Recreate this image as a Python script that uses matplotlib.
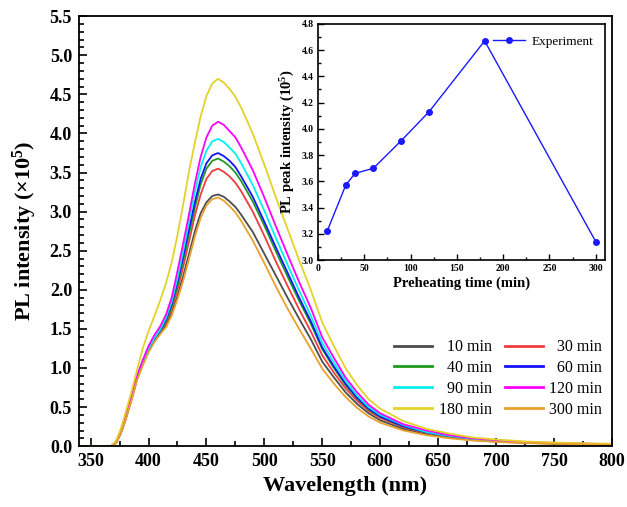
import matplotlib
matplotlib.use("Agg")
import matplotlib.pyplot as plt
from matplotlib.ticker import MultipleLocator, FormatStrFormatter

plt.rcParams['font.family'] = ['Liberation Serif', 'DejaVu Serif']
plt.rcParams['mathtext.fontset'] = 'custom'
plt.rcParams['mathtext.rm'] = 'Liberation Serif'
plt.rcParams['mathtext.bf'] = 'Liberation Serif:bold'

# ---------------- data ----------------
wavelength = [340, 360, 368, 372, 376, 380, 385, 390, 395, 400, 405, 410, 415, 420, 425,
              430, 435, 440, 445, 450, 455, 460, 465, 470, 475, 480, 490, 500, 510, 520,
              530, 540, 550, 560, 570, 580, 590, 600, 620, 640, 660, 680, 700, 725, 750,
              775, 800]

i_10 = [0, 0, 0, 0.04, 0.16, 0.33, 0.58, 0.85, 1.05, 1.22, 1.35, 1.45, 1.55, 1.70, 1.92,
        2.18, 2.46, 2.75, 2.98, 3.12, 3.20, 3.22, 3.19, 3.13, 3.06, 2.96, 2.74, 2.46, 2.18,
        1.90, 1.63, 1.37, 1.08, 0.88, 0.69, 0.54, 0.42, 0.33, 0.22, 0.15, 0.11, 0.077,
        0.058, 0.042, 0.032, 0.026, 0.019]
i_30 = [0, 0, 0, 0.05, 0.17, 0.34, 0.59, 0.86, 1.06, 1.23, 1.36, 1.47, 1.58, 1.76, 2.00,
        2.30, 2.62, 2.95, 3.22, 3.42, 3.52, 3.55, 3.51, 3.45, 3.37, 3.26, 3.00, 2.69, 2.36,
        2.05, 1.75, 1.47, 1.16, 0.94, 0.74, 0.58, 0.45, 0.36, 0.24, 0.167, 0.12, 0.085,
        0.064, 0.046, 0.036, 0.028, 0.021]
i_40 = [0, 0, 0, 0.05, 0.18, 0.35, 0.60, 0.87, 1.07, 1.24, 1.37, 1.48, 1.60, 1.79, 2.06,
        2.38, 2.72, 3.05, 3.35, 3.55, 3.65, 3.68, 3.64, 3.58, 3.50, 3.39, 3.13, 2.82, 2.49,
        2.17, 1.86, 1.57, 1.24, 1.00, 0.78, 0.61, 0.47, 0.375, 0.25, 0.173, 0.125, 0.088,
        0.066, 0.048, 0.037, 0.029, 0.022]
i_60 = [0, 0, 0, 0.05, 0.18, 0.35, 0.60, 0.87, 1.07, 1.24, 1.37, 1.48, 1.62, 1.82, 2.10,
        2.43, 2.78, 3.12, 3.42, 3.62, 3.72, 3.75, 3.71, 3.65, 3.57, 3.45, 3.19, 2.87, 2.54,
        2.22, 1.90, 1.60, 1.26, 1.02, 0.80, 0.62, 0.48, 0.38, 0.255, 0.176, 0.128, 0.09,
        0.068, 0.049, 0.038, 0.030, 0.023]
i_90 = [0, 0, 0, 0.05, 0.18, 0.36, 0.61, 0.88, 1.08, 1.25, 1.38, 1.49, 1.64, 1.85, 2.15,
        2.50, 2.88, 3.25, 3.57, 3.78, 3.90, 3.93, 3.89, 3.82, 3.74, 3.62, 3.34, 3.01, 2.66,
        2.32, 1.99, 1.67, 1.32, 1.07, 0.84, 0.65, 0.50, 0.40, 0.27, 0.18, 0.13, 0.094,
        0.071, 0.051, 0.039, 0.031, 0.024]
i_120 = [0, 0, 0, 0.05, 0.19, 0.37, 0.63, 0.90, 1.10, 1.28, 1.42, 1.53, 1.68, 1.90, 2.24,
         2.60, 2.97, 3.36, 3.70, 3.95, 4.10, 4.15, 4.11, 4.03, 3.95, 3.82, 3.53, 3.18, 2.81,
         2.45, 2.10, 1.77, 1.39, 1.13, 0.88, 0.69, 0.53, 0.42, 0.28, 0.20, 0.14, 0.10,
         0.075, 0.054, 0.042, 0.033, 0.025]
i_180 = [0, 0, 0, 0.07, 0.22, 0.42, 0.68, 0.97, 1.25, 1.47, 1.66, 1.86, 2.08, 2.35, 2.70,
         3.10, 3.52, 3.88, 4.22, 4.48, 4.64, 4.70, 4.65, 4.57, 4.47, 4.33, 4.00, 3.60, 3.18,
         2.78, 2.38, 2.00, 1.58, 1.28, 1.00, 0.78, 0.60, 0.48, 0.32, 0.22, 0.16, 0.11,
         0.085, 0.060, 0.047, 0.038, 0.030]
i_300 = [0, 0, 0, 0.04, 0.16, 0.33, 0.57, 0.84, 1.03, 1.20, 1.33, 1.43, 1.52, 1.67, 1.88,
         2.12, 2.40, 2.68, 2.92, 3.08, 3.16, 3.18, 3.14, 3.07, 2.99, 2.88, 2.63, 2.34, 2.04,
         1.76, 1.50, 1.25, 0.99, 0.80, 0.63, 0.49, 0.38, 0.30, 0.20, 0.14, 0.10, 0.072,
         0.054, 0.040, 0.030, 0.024, 0.018]

series_labels = ["10 min", "30 min", "40 min", "60 min", "90 min", "120 min", "180 min", "300 min"]
series_data = [i_10, i_30, i_40, i_60, i_90, i_120, i_180, i_300]
series_colors = ["#4d4d4d", "#f03c3c", "#1e9a1e", "#1414ff", "#00f0f0", "#ff00ff", "#e3d22a", "#e9a12d"]

preheat_time = [10, 30, 40, 60, 90, 120, 180, 300]
peak_intensity = [3.22, 3.57, 3.66, 3.70, 3.91, 4.13, 4.67, 3.14]

# ---------------- figure ----------------
fig = plt.figure(figsize=(6.27, 5.07), dpi=100)
ax = fig.add_axes([0.126, 0.120, 0.850, 0.848])

handles = {}
for lab, d, c in zip(series_labels, series_data, series_colors):
    h, = ax.plot(wavelength, d, color=c, lw=1.3)
    handles[lab] = h

ax.set_xlim(340, 800)
ax.set_ylim(0, 5.5)
ax.xaxis.set_major_locator(MultipleLocator(50))
ax.xaxis.set_minor_locator(MultipleLocator(25))
ax.yaxis.set_major_locator(MultipleLocator(0.5))
ax.yaxis.set_minor_locator(MultipleLocator(0.1))
ax.yaxis.set_major_formatter(FormatStrFormatter('%.1f'))
ax.tick_params(which='both', direction='in', top=False, right=False, width=1.2)
ax.tick_params(which='major', length=6, labelsize=13, pad=5)
ax.tick_params(which='minor', length=3.5)
for t in ax.get_xticklabels() + ax.get_yticklabels():
    t.set_fontweight('bold')
for s in ax.spines.values():
    s.set_linewidth(1.3)
ax.set_xlabel("Wavelength (nm)", fontsize=16, fontweight='bold', labelpad=4)
ax.set_ylabel(r"PL intensity ($\mathbf{\times 10^5}$)", fontsize=16, fontweight='bold', labelpad=8)

# legend: row-wise order in two columns
pad = {"10 min": "  10 min", "30 min": "  30 min", "40 min": "  40 min", "60 min": "  60 min",
       "90 min": "  90 min", "120 min": "120 min", "180 min": "180 min", "300 min": "300 min"}
order = ["10 min", "40 min", "90 min", "180 min", "30 min", "60 min", "120 min", "300 min"]
leg = ax.legend([handles[k] for k in order], [pad[k] for k in order], ncol=2,
                loc='lower right', bbox_to_anchor=(0.997, 0.048), frameon=False,
                fontsize=11.5, handlelength=2.4, handletextpad=0.4, columnspacing=0.8,
                labelspacing=0.3, borderpad=0)
for l in leg.get_lines():
    l.set_linewidth(2)

# ---------------- inset ----------------
ins = fig.add_axes([0.507, 0.487, 0.458, 0.466])
ins.plot(preheat_time, peak_intensity, color="#1a1aff", lw=1.0, marker='o', ms=4,
         label="Experiment")
ins.set_xlim(0, 310)
ins.set_ylim(3.0, 4.8)
ins.xaxis.set_major_locator(MultipleLocator(50))
ins.xaxis.set_minor_locator(MultipleLocator(25))
ins.yaxis.set_major_locator(MultipleLocator(0.2))
ins.yaxis.set_minor_locator(MultipleLocator(0.1))
ins.yaxis.set_major_formatter(FormatStrFormatter('%.1f'))
ins.tick_params(which='both', direction='in', top=False, right=False, width=1.0)
ins.tick_params(which='major', length=4, labelsize=7, pad=3)
ins.tick_params(which='minor', length=2)
for t in ins.get_xticklabels() + ins.get_yticklabels():
    t.set_fontweight('bold')
for s in ins.spines.values():
    s.set_linewidth(1.2)
ins.set_xlabel("Preheating time (min)", fontsize=10.5, fontweight='bold', labelpad=2)
ins.set_ylabel(r"PL peak intensity (10$\mathbf{^5}$)", fontsize=10.5, fontweight='bold', labelpad=3)
ins.legend(loc='upper right', frameon=False, fontsize=9.5, handlelength=2.4,
           handletextpad=0.5, borderaxespad=0.5)

fig.savefig("out.png", dpi=100)
